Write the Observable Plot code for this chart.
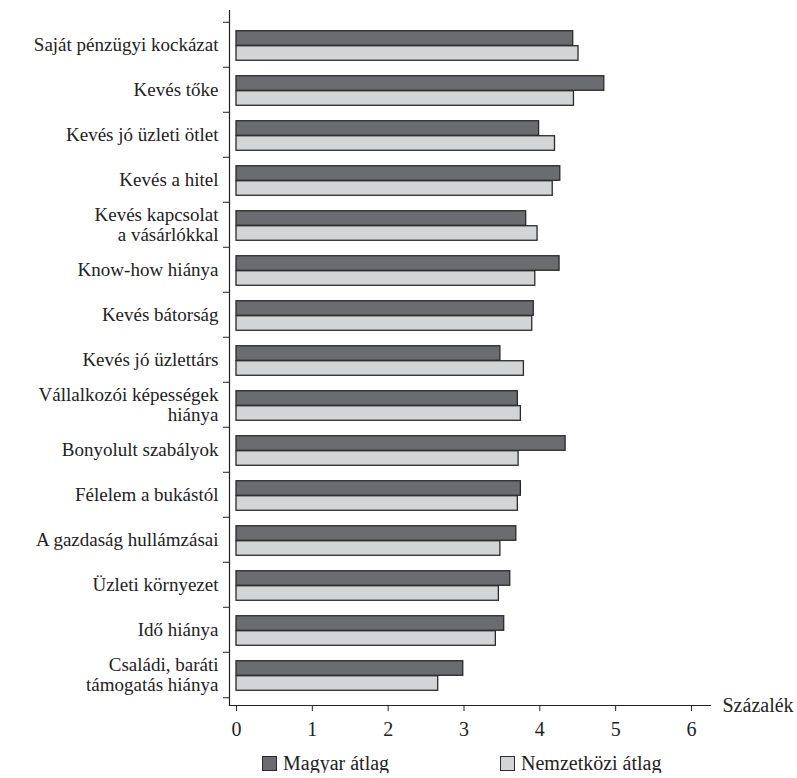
<!DOCTYPE html>
<html>
<head>
<meta charset="utf-8">
<script src="https://cdn.jsdelivr.net/npm/d3@7"></script>
<script src="https://cdn.jsdelivr.net/npm/@observablehq/plot@0.6"></script>
</head>
<body style="margin:0;background:#fff">
<div id="chart"></div>
<div id="legend" style="display:flex;align-items:center;height:20px;margin-top:8px;padding-left:262px;font-size:20px;color:#222;font-family:'Liberation Serif', serif">
  <div style="display:flex;align-items:center;width:238px"><div id="sw0" style="width:13px;height:13px;border:1.3px solid #2a2a2a;margin-right:6px"></div><span id="lg0" style="font-family:'Liberation Serif', serif">Magyar átlag</span></div>
  <div style="display:flex;align-items:center"><div id="sw1" style="width:13px;height:13px;border:1.3px solid #2a2a2a;margin-right:6px"></div><span id="lg1" style="font-family:'Liberation Serif', serif">Nemzetközi átlag</span></div>
</div>
<script>
const categories = [
  "Saját pénzügyi kockázat",
  "Kevés tőke",
  "Kevés jó üzleti ötlet",
  "Kevés a hitel",
  "Kevés kapcsolat\na vásárlókkal",
  "Know-how hiánya",
  "Kevés bátorság",
  "Kevés jó üzlettárs",
  "Vállalkozói képességek\nhiánya",
  "Bonyolult szabályok",
  "Félelem a bukástól",
  "A gazdaság hullámzásai",
  "Üzleti környezet",
  "Idő hiánya",
  "Családi, baráti\ntámogatás hiánya"
];
const series = ["Magyar átlag", "Nemzetközi átlag"];
const magyar =      [4.44, 4.85, 3.99, 4.27, 3.82, 4.26, 3.92, 3.48, 3.71, 4.34, 3.75, 3.69, 3.61, 3.53, 2.99];
const nemzetkozi =  [4.51, 4.45, 4.20, 4.17, 3.97, 3.94, 3.90, 3.79, 3.75, 3.72, 3.71, 3.48, 3.46, 3.42, 2.66];
const xTicks = [0, 1, 2, 3, 4, 5, 6];
const xLabel = "Százalék";
const colors = ["#6b6c70", "#d3d4d6"];

const dataM = categories.map((c, i) => ({cat: c, v: magyar[i]}));
const dataN = categories.map((c, i) => ({cat: c, v: nemzetkozi[i]}));

const H = 745, MT = 10, MB = 40;
const yInsetTop = 8, yInsetBottom = 5;
const step = (H - MT - MB - yInsetTop - yInsetBottom) / categories.length;
const barH = 15;
const inset = (step - barH) / 2;

const chart = Plot.plot({
  width: 797,
  height: H,
  marginLeft: 229,
  marginRight: 87,
  marginTop: MT,
  marginBottom: MB,
  style: {fontFamily: "'Liberation Serif', serif", fontSize: "19px"},
  x: {domain: [0, 6], insetLeft: 7, insetRight: 19},
  y: {domain: categories, padding: 0, insetTop: yInsetTop, insetBottom: yInsetBottom},
  marks: [
    Plot.barX(dataM, {x: "v", y: "cat", fill: colors[0], stroke: "#2a2a2a", strokeWidth: 1.3, insetTop: inset, insetBottom: inset, dy: -barH / 2 + 1}),
    Plot.barX(dataN, {x: "v", y: "cat", fill: colors[1], stroke: "#2a2a2a", strokeWidth: 1.3, insetTop: inset, insetBottom: inset, dy: barH / 2 + 1}),
    Plot.frame({anchor: "left", stroke: "#222", strokeWidth: 1.2}),
    Plot.frame({anchor: "bottom", stroke: "#222", strokeWidth: 1.2}),
    Plot.axisY({tickSize: 0, tickPadding: 11, label: null, lineHeight: 1.05, fontSize: 19, fill: "#222"}),
    Plot.axisY({tickSize: 6, tickFormat: () => "", label: null, dy: -step / 2, stroke: "#222"}),
    Plot.axisY([categories[categories.length - 1]], {tickSize: 6, tickFormat: () => "", label: null, dy: step / 2, stroke: "#222"}),
    Plot.axisX({ticks: xTicks, tickFormat: d3.format("d"), tickSize: 6, tickPadding: 10, label: null, fontSize: 20, fill: "#222", stroke: "#222"}),
    Plot.text([xLabel], {frameAnchor: "bottom-right", dx: 12, textAnchor: "start", lineAnchor: "middle", fontSize: 20, fill: "#222"})
  ]
});
document.getElementById("chart").appendChild(chart);

series.forEach((s, i) => {
  document.getElementById("sw" + i).style.background = colors[i];
  document.getElementById("lg" + i).textContent = s;
});
</script>
</body>
</html>
